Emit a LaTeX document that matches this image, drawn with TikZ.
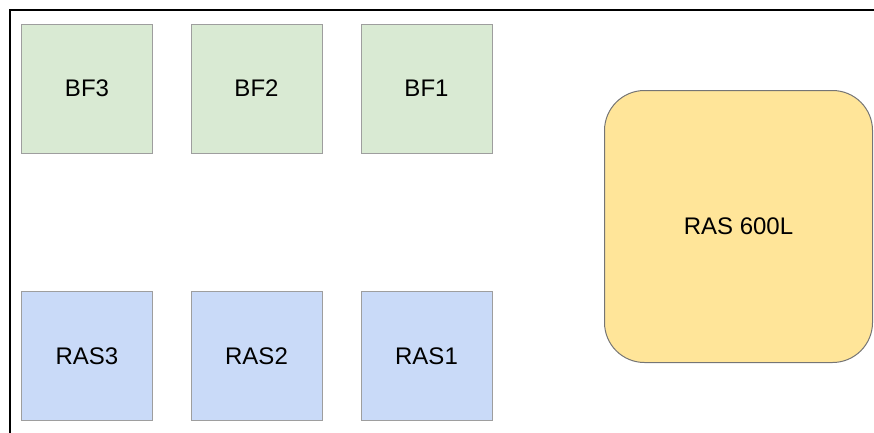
\documentclass[tikz,border=0pt]{standalone}
\usepackage{fontspec}
\setmainfont{Liberation Sans}
\definecolor{bfgreen}{HTML}{D9EAD3}
\definecolor{rasblue}{HTML}{C9DAF8}
\definecolor{bigyellow}{HTML}{FFE599}
\definecolor{boxgrey}{HTML}{9E9E9E}
\definecolor{biggrey}{HTML}{757575}
\begin{document}
\begin{tikzpicture}[x=1pt,y=-1pt,
  lbl/.style={font=\fontsize{24}{28}\selectfont,text depth=0pt,inner sep=0pt},
  sq/.style={lbl,draw=boxgrey,line width=1pt,minimum width=131pt,minimum height=129pt,anchor=center},
  bf/.style={sq,fill=bfgreen},
  ras/.style={sq,fill=rasblue},
  big/.style={lbl,draw=biggrey,line width=1pt,fill=bigyellow,rounded corners=40pt,minimum width=268pt,minimum height=272pt}]
\useasboundingbox (0,0) rectangle (874,432);
\draw[line width=2pt] (10,433) -- (10,10) -- (875,10);
\node[bf] (bf3) at (87,88.5) {BF3};
\node[bf] (bf2) at (256.5,88.5) {BF2};
\node[bf] (bf1) at (426.5,88.5) {BF1};
\node[ras] (ras3) at (87,356) {RAS3};
\node[ras] (ras2) at (256.5,356) {RAS2};
\node[ras] (ras1) at (426.5,356) {RAS1};
\node[big] (ras600) at (738.5,226.5) {RAS 600L};
\end{tikzpicture}
\end{document}
